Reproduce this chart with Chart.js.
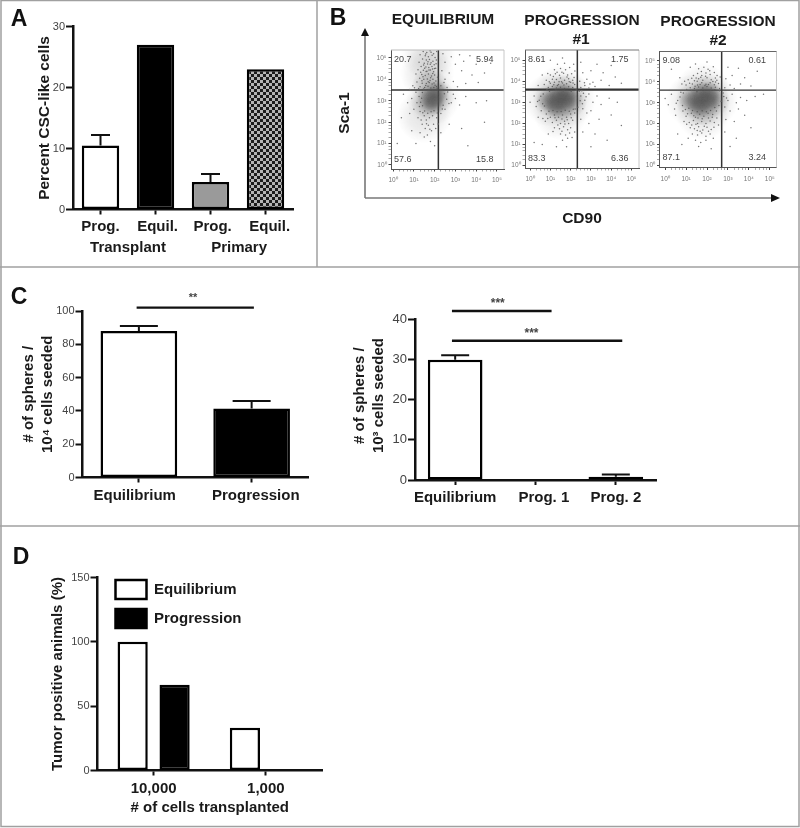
<!DOCTYPE html>
<html>
<head>
<meta charset="utf-8">
<script src="https://cdn.jsdelivr.net/npm/chart.js@4"></script>
<style>
  html, body { margin: 0; background: #fff; }
  #page { position: relative; width: 800px; height: 828px; overflow: hidden; font-family: "Liberation Sans", Arial, sans-serif; filter: blur(0.35px); }
  #page canvas, #page svg { position: absolute; }
  .txt { position: absolute; white-space: nowrap; font-weight: bold; color: #1a1a1a; line-height: 20px; transform: translate(-50%, -50%); }
  .letter { font-size: 23px; color: #111; }
  .head { font-size: 15.5px; }
</style>
</head>
<body>
<div id="page">
  <svg width="800" height="828">
    <g stroke="#a0a0a0" stroke-width="1.5" fill="none">
      <rect x="1" y="0.5" width="798" height="826"/>
      <line x1="317" y1="0" x2="317" y2="267"/>
      <line x1="0" y1="267" x2="800" y2="267"/>
      <line x1="0" y1="526" x2="800" y2="526"/>
    </g>
    <g stroke="#777" stroke-width="1.6">
      <line x1="365" y1="34" x2="365" y2="198"/>
      <line x1="365" y1="198" x2="772" y2="198"/>
    </g>
    <polygon points="365,28 361,36 369,36" fill="#111"/>
    <polygon points="780,198 771,194 771,202" fill="#111"/>
  </svg>

  <div class="txt letter" style="left:19px;top:18px">A</div>
  <div class="txt letter" style="left:338px;top:17px">B</div>
  <div class="txt letter" style="left:19px;top:296px">C</div>
  <div class="txt letter" style="left:21px;top:556px">D</div>
  <div class="txt head" style="left:443px;top:19px">EQUILIBRIUM</div>
  <div class="txt head" style="left:582px;top:20px">PROGRESSION</div>
  <div class="txt head" style="left:581px;top:39px">#1</div>
  <div class="txt head" style="left:718px;top:21px">PROGRESSION</div>
  <div class="txt head" style="left:718px;top:40px">#2</div>
  <div class="txt head" style="left:344px;top:113px;transform:translate(-50%,-50%) rotate(-90deg)">Sca-1</div>
  <div class="txt head" style="left:582px;top:218px">CD90</div>

  <canvas id="chartA"></canvas>
  <canvas id="chartEq"></canvas>
  <canvas id="chartP1"></canvas>
  <canvas id="chartP2"></canvas>
  <canvas id="chartC1"></canvas>
  <canvas id="chartC2"></canvas>
  <canvas id="chartD"></canvas>
</div>

<script>
// panel A
const A_LABELS = ["Prog.", "Equil.", "Prog.", "Equil."];
const A_VALUES = [10.5, 27, 4.5, 23];
const A_ERR_TOP = [12.2, null, 5.8, null];
const A_GROUPS = [["Transplant", 0.5], ["Primary", 2.52]];
const A_TICKS = [0, 10, 20, 30];

// panel C
const C1_LABELS = ["Equilibrium", "Progression"];
const C1_VALUES = [88, 41.5];
const C1_ERR_TOP = [91, 46];
const C1_TICKS = [0, 20, 40, 60, 80, 100];
const C2_LABELS = ["Equilibrium", "Prog. 1", "Prog. 2"];
const C2_VALUES = [30, 0, 0.8];
const C2_ERR_TOP = [31.1, null, 1.4];
const C2_TICKS = [0, 10, 20, 30, 40];
// from, to (category index), height (y value), star position (category index)
const C1_SIG = [[-0.02, 1.02, 102, 0.48, "**"]];
const C2_SIG = [[-0.04, 1.2, 42.1, 0.53, "***"], [-0.04, 2.08, 34.7, 0.95, "***"]];

// panel D
const D_LABELS = ["10,000", "1,000"];
const D_EQUIL = [100, 33.3];
const D_PROG = [66.7, 0];
const D_TICKS = [0, 50, 100, 150];

// panel B, values are log10 of intensity
const DECADES = [0, 1, 2, 3, 4, 5];
const DECADE_LABELS = ["10⁰", "10¹", "10²", "10³", "10⁴", "10⁵"];
const MINOR_TICKS = [0.3, 0.5, 0.7, 0.85, 1.3, 1.5, 1.7, 1.85, 2.3, 2.5, 2.7, 2.85, 3.3, 3.5, 3.7, 3.85, 4.3, 4.5, 4.7, 4.85];
const EQ_QUADS = ["20.7", "5.94", "57.6", "15.8"];
const P1_QUADS = ["8.61", "1.75", "83.3", "6.36"];
const P2_QUADS = ["9.08", "0.61", "87.1", "3.24"];
const EQ_CROSS = [2.18, 3.5];
const P1_CROSS = [2.33, 3.6];
const P2_CROSS = [2.7, 3.6];

// soft density layers: wide cloud, middle, dense centre
const EQ_CLOUD = [[1.92, 3.1], [1.65, 4.3], [1.7, 5.2], [1.5, 2.3]];
const EQ_HALO = [[1.9, 3.1], [2.15, 3.2], [1.65, 2.95], [1.75, 3.8]];
const EQ_CORE = [[1.9, 3.1], [1.72, 3.02], [2.08, 3.2], [1.95, 2.85], [2.15, 3.42]];
const P1_CLOUD = [[1.0, 3.1], [1.9, 3.1], [1.5, 3.5], [1.5, 2.5]];
const P1_HALO = [[1.0, 3.1], [1.5, 3.1], [2.0, 3.1], [1.5, 2.75], [1.6, 3.5]];
const P1_CORE = [[0.85, 3.1], [1.15, 3.05], [1.45, 3.1], [1.75, 3.1], [2.05, 3.15], [1.45, 3.4], [1.8, 3.4], [1.3, 2.8]];
const P2_CLOUD = [[1.3, 3.1], [2.2, 3.1], [1.8, 3.6], [1.8, 2.5]];
const P2_HALO = [[1.3, 3.1], [1.8, 3.1], [2.3, 3.1], [1.8, 2.7], [1.9, 3.5]];
const P2_CORE = [[1.15, 3.15], [1.45, 3.1], [1.75, 3.1], [2.05, 3.15], [2.35, 3.2], [1.75, 3.45], [2.1, 3.5], [1.65, 2.8]];

const EQ_DOTS = [
  [1.45,5.3],[1.62,5.25],[1.78,5.33],[1.95,5.2],[2.1,5.3],[1.3,5.15],[1.55,5.1],[1.7,5.05],[1.88,5.12],[2.02,5.02],
  [1.42,4.95],[1.6,4.9],[1.75,4.93],[1.92,4.85],[2.08,4.9],[1.25,4.8],[1.5,4.75],[1.66,4.72],[1.83,4.78],[1.98,4.68],
  [1.35,4.6],[1.58,4.58],[1.72,4.55],[1.87,4.6],[2.05,4.52],[1.2,4.45],[1.46,4.42],[1.63,4.38],[1.8,4.44],[1.95,4.35],
  [1.1,4.25],[1.38,4.22],[1.55,4.18],[1.7,4.25],[1.85,4.15],[2.0,4.2],[2.14,4.1],[1.28,4.05],[1.48,4.0],[1.65,4.02],
  [1.78,3.95],[1.92,4.0],[2.06,3.92],[1.15,3.88],[1.4,3.82],[1.6,3.8],[1.74,3.85],[1.88,3.78],[2.02,3.72],[0.95,3.7],
  [1.3,3.65],[1.52,3.62],[1.68,3.68],[1.82,3.6],[1.96,3.62],[2.12,3.58],[1.52,4.52],[1.9,4.48],[1.68,4.82],[1.44,4.12],
  [1.33,4.33],[1.47,4.67],[1.59,4.36],[1.73,4.44],[1.79,4.71],[1.91,4.27],[1.99,4.51],[2.07,4.73],[1.57,5.18],[1.83,5.27],
  [1.39,3.93],[1.57,3.71],[1.69,3.89],[1.81,4.07],[1.97,3.83],[2.09,3.67],[1.23,3.57],[1.47,3.55],[1.03,3.61],[0.81,3.53],
  [2.4,5.2],[2.8,5.05],[3.2,5.15],[3.7,5.1],[2.5,4.8],[3.0,4.7],[3.4,4.85],[4.0,4.7],[4.7,4.75],
  [2.35,4.4],[2.7,4.3],[3.3,4.4],[3.8,4.2],[4.4,4.3],[2.5,4.0],[2.9,3.9],[3.5,3.8],[4.1,3.85],[2.3,3.7],[2.6,3.62],[3.1,3.65],[2.45,3.85],
  [0.5,3.3],[0.7,2.9],[0.9,3.1],[1.0,2.6],[1.1,3.4],[1.15,2.9],[1.25,3.2],[1.3,2.5],[0.8,2.4],[1.2,2.2],[1.35,2.1],
  [1.42,2.77],[1.33,2.93],[1.27,2.73],[1.41,3.39],[1.37,3.11],[2.47,3.33],[2.58,3.07],[2.63,3.41],[2.69,2.87],[2.41,2.79],
  [2.37,2.61],[1.52,2.52],[1.67,2.41],[1.83,2.48],[1.97,2.53],[2.13,2.43],[1.43,2.44],[1.61,1.93],[1.77,1.67],[2.17,1.91],
  [1.5,2.3],[1.6,2.1],[1.75,2.2],[1.9,2.3],[2.1,2.2],[2.3,2.4],[2.5,2.6],[2.8,2.9],[3.0,3.1],[3.2,2.8],[2.9,3.3],
  [3.5,3.2],[4.0,2.9],[4.5,3.0],[1.4,1.9],[1.55,1.7],[1.7,1.85],[1.85,1.6],[1.95,1.9],[2.05,1.7],[1.3,1.5],[1.5,1.3],
  [1.65,1.4],[0.9,1.6],[0.4,2.2],[0.2,1.0],[1.8,1.1],[2.3,1.5],[2.7,1.9],[3.3,1.7],[4.4,2.0],[2.0,0.9],[3.6,0.9],[1.1,1.0]
];

const P1_DOTS = [
  [0.9,3.7],[1.1,3.75],[1.3,3.68],[1.5,3.72],[1.7,3.66],[1.9,3.74],[2.1,3.7],[0.7,3.85],[1.0,3.9],[1.2,3.95],[1.4,3.85],
  [1.6,3.92],[1.8,3.88],[2.0,3.95],[2.2,3.85],[0.8,4.05],[1.1,4.1],[1.3,4.08],[1.5,4.15],[1.7,4.05],[1.9,4.12],[2.1,4.05],
  [1.0,4.3],[1.25,4.35],[1.45,4.28],[1.65,4.38],[1.85,4.3],[2.05,4.35],[1.2,4.55],[1.5,4.6],[1.75,4.55],[1.95,4.65],
  [1.35,4.8],[1.7,4.85],[2.15,4.8],[0.6,4.3],[1.0,5.0],[0.4,3.8],[1.6,5.1],[1.55,3.98],[1.82,4.2],[1.15,4.22],[1.35,3.8],[2.12,3.92],
  [0.95,3.98],[1.17,3.83],[1.43,3.97],[1.67,3.82],[1.93,3.97],[2.17,4.18],[1.33,4.43],[1.57,4.43],[2.21,4.48],[0.87,4.37],
  [2.5,3.7],[2.7,3.8],[2.9,3.68],[3.2,3.75],[2.45,4.0],[2.8,4.1],[3.1,3.95],[3.5,4.05],[3.9,3.8],[2.6,4.4],[3.0,4.5],[3.6,4.4],[4.2,4.2],[4.5,3.9],[3.3,4.8],[4.0,4.75],[2.5,4.9],
  [2.68,3.93],[2.95,3.87],[2.55,3.55],
  [0.0,3.0],[0.2,3.3],[0.3,2.8],[0.45,3.1],[0.55,2.6],[0.65,3.4],[0.4,2.3],[0.8,2.45],[1.0,2.3],[1.2,2.4],[1.4,2.3],[1.6,2.4],
  [1.8,2.3],[2.0,2.45],[2.2,2.5],[0.75,2.1],[1.1,2.05],[1.3,2.15],[1.5,2.0],[1.7,2.1],[1.9,2.0],[2.1,2.15],[1.2,1.8],[1.45,1.75],
  [1.65,1.85],[1.85,1.7],[2.0,1.8],[1.5,1.5],[1.75,1.45],[1.95,1.55],[2.2,1.6],[1.6,1.2],[1.85,1.3],[1.8,0.9],[0.9,1.5],[0.2,1.1],[0.6,1.0],[1.3,0.9],
  [0.53,3.29],[0.37,3.04],[0.71,2.83],[0.62,2.93],[0.83,3.58],[0.96,3.52],[1.27,3.57],[1.63,3.55],[2.03,3.53],[2.27,3.58],[2.42,3.52],[2.63,3.43],
  [2.76,3.27],[2.47,3.08],[2.58,2.93],[2.36,2.77],[2.22,2.69],[0.93,2.58],[1.13,2.61],[1.33,2.55],[1.53,2.57],[1.73,2.62],[1.93,2.58],[2.13,2.67],
  [0.63,2.23],[0.87,2.24],[1.23,2.27],[1.57,2.21],[1.83,2.18],[2.03,2.27],[1.37,1.93],[1.57,1.63],[1.13,1.62],[1.72,1.97],[2.07,1.33],
  [2.5,3.3],[2.7,3.1],[2.9,3.4],[3.1,3.0],[3.3,3.3],[2.6,2.7],[2.8,2.5],[3.0,2.6],[3.5,2.9],[3.9,3.2],[4.3,3.0],[2.5,2.2],[2.9,2.0],[3.4,2.2],[4.0,2.4],[2.6,1.6],[3.2,1.5],[4.5,1.9],[3.0,0.9],[3.8,1.2]
];

const P2_DOTS = [
  [1.2,3.72],[1.4,3.68],[1.6,3.75],[1.8,3.7],[2.0,3.78],[2.2,3.7],[2.4,3.74],[2.6,3.68],[1.0,3.85],[1.3,3.9],[1.55,3.85],[1.75,3.95],
  [1.95,3.88],[2.15,3.95],[2.35,3.86],[2.55,3.92],[1.1,4.1],[1.4,4.05],[1.6,4.15],[1.8,4.08],[2.0,4.2],[2.2,4.1],[2.4,4.18],[1.35,4.3],
  [1.55,4.4],[1.75,4.3],[1.95,4.42],[2.15,4.35],[2.35,4.45],[1.6,4.62],[1.85,4.7],[2.05,4.6],[2.3,4.72],[1.45,4.85],[2.0,4.95],[0.7,4.2],[0.8,3.9],[1.2,4.7],[0.3,4.6],
  [1.7,4.22],[1.9,3.82],[2.28,4.02],[1.48,4.18],[2.48,4.3],[1.17,3.93],[1.43,3.79],[1.67,3.87],[2.07,3.87],[2.47,4.07],[1.27,4.17],[1.93,4.27],[2.13,4.53],[1.73,4.49],[2.41,3.99],[1.53,4.03],[0.93,4.03],[2.63,4.23],
  [2.85,3.72],[3.1,3.85],[3.3,3.68],[3.6,3.9],[2.9,4.15],[3.2,4.3],[3.8,4.2],[4.1,3.8],[3.0,4.7],[3.5,4.65],[4.4,4.5],
  [0.0,3.2],[0.15,2.9],[0.3,3.4],[0.45,2.7],[0.6,3.1],[0.75,3.5],[0.5,2.4],[0.85,2.6],[1.0,2.35],[1.25,2.5],[1.45,2.3],[1.65,2.45],
  [1.85,2.35],[2.05,2.5],[2.25,2.3],[2.45,2.6],[0.9,2.1],[1.15,2.05],[1.35,2.15],[1.55,2.0],[1.75,2.1],[1.95,2.0],[2.15,2.12],[2.35,2.05],
  [1.2,1.8],[1.4,1.75],[1.6,1.85],[1.8,1.7],[2.0,1.82],[2.2,1.72],[1.3,1.5],[1.55,1.45],[1.75,1.55],[1.95,1.4],[2.15,1.5],[1.45,1.2],
  [1.7,1.1],[1.95,1.2],[2.3,1.3],[1.1,1.3],[0.6,1.5],[0.8,1.0],[1.6,0.9],[2.2,0.8],
  [1.03,3.63],[1.27,3.58],[1.52,3.53],[1.73,3.61],[2.13,3.58],[2.37,3.62],[2.59,3.57],[0.87,3.47],[0.71,3.27],[0.53,2.97],[0.83,2.87],[0.97,2.67],
  [1.13,2.73],[1.31,2.63],[1.53,2.57],[1.77,2.61],[1.97,2.57],[2.17,2.63],[2.37,2.77],[2.57,2.87],[2.67,3.07],[2.77,3.47],[2.93,3.23],[1.07,2.47],
  [1.37,2.37],[1.57,2.27],[1.77,2.23],[2.07,2.27],[2.27,2.43],[2.47,2.27],[1.03,1.97],[1.27,1.93],[1.47,1.97],[1.67,1.63],[1.87,1.87],[2.07,1.63],[2.33,1.83],[2.55,1.93],[1.53,1.67],
  [2.8,3.3],[3.0,3.1],[3.2,3.4],[3.4,3.0],[3.6,3.25],[2.85,2.8],[3.1,2.6],[3.5,2.7],[3.9,3.1],[4.3,3.3],[4.7,3.4],[2.9,2.2],[3.3,2.1],[3.8,2.4],[2.85,1.6],[3.4,1.3],[4.1,1.8],[3.1,0.9]
];

// checks of the last bar in panel A
function checkerPattern() {
  const c = document.createElement("canvas");
  c.width = 6;
  c.height = 6;
  const g = c.getContext("2d");
  g.fillStyle = "#1c1c1c";
  g.fillRect(0, 0, 6, 6);
  g.fillStyle = "#b4b4b4";
  g.fillRect(0, 0, 3, 3);
  g.fillRect(3, 3, 3, 3);
  return g.createPattern(c, "repeat");
}

// round sprite that fades out, stacked to build the density of the flow plots
function softDot(diameter, peakAlpha) {
  const c = document.createElement("canvas");
  c.width = c.height = diameter;
  const g = c.getContext("2d");
  const r = diameter / 2;
  const grad = g.createRadialGradient(r, r, 0, r, r, r);
  grad.addColorStop(0, `rgba(80,80,80,${peakAlpha})`);
  grad.addColorStop(0.55, `rgba(80,80,80,${peakAlpha * 0.6})`);
  grad.addColorStop(1, "rgba(80,80,80,0)");
  g.fillStyle = grad;
  g.fillRect(0, 0, diameter, diameter);
  return c;
}

// error bars, significance lines and small labels, all placed through the chart's scales
const annotate = {
  id: "annotate",
  afterDatasetsDraw(chart, _args, opts) {
    const { ctx, chartArea: area } = chart;
    const x = chart.scales.x;
    const y = chart.scales.y;
    ctx.save();
    ctx.strokeStyle = "#111";
    ctx.textAlign = "center";
    ctx.textBaseline = "middle";

    if (opts.errors) {
      const bars = chart.getDatasetMeta(0).data;
      ctx.lineWidth = 2;
      opts.errors.forEach((top, i) => {
        if (top === null) return;
        const px = bars[i].x;
        const py = y.getPixelForValue(top);
        ctx.beginPath();
        ctx.moveTo(px, y.getPixelForValue(chart.data.datasets[0].data[i]));
        ctx.lineTo(px, py);
        ctx.moveTo(px - opts.capHalf, py);
        ctx.lineTo(px + opts.capHalf, py);
        ctx.stroke();
      });
    }
    for (const [from, to, val, starAt, stars] of opts.sig || []) {
      const py = y.getPixelForValue(val);
      ctx.lineWidth = 2.4;
      ctx.beginPath();
      ctx.moveTo(x.getPixelForValue(from), py);
      ctx.lineTo(x.getPixelForValue(to), py);
      ctx.stroke();
      ctx.fillStyle = "#444";
      ctx.font = `bold ${opts.starSize}px 'Liberation Sans'`;
      ctx.fillText(stars, x.getPixelForValue(starAt), py - opts.starGap);
    }
    for (const [label, at] of opts.groups || []) {
      ctx.fillStyle = "#1a1a1a";
      ctx.font = "bold 15px 'Liberation Sans'";
      ctx.fillText(label, x.getPixelForValue(at), area.bottom + 38);
    }
    if (opts.quads) {
      ctx.fillStyle = "#444";
      ctx.font = "9px 'Liberation Sans'";
      ctx.textAlign = "left";
      ctx.fillText(opts.quads[0], area.left + 3, area.top + 9.5);
      ctx.fillText(opts.quads[2], area.left + 3, area.bottom - 9.5);
      ctx.textAlign = "right";
      ctx.fillText(opts.quads[1], area.right - 10.5, area.top + 9.5);
      ctx.fillText(opts.quads[3], area.right - 10.5, area.bottom - 9.5);
      ctx.strokeStyle = "#c8c8c8";
      ctx.lineWidth = 1;
      ctx.beginPath();
      ctx.moveTo(area.right, area.bottom);
      ctx.lineTo(area.right, area.top);
      ctx.stroke();
      ctx.strokeStyle = opts.topColor;
      ctx.beginPath();
      ctx.moveTo(area.right, area.top);
      ctx.lineTo(area.left, area.top);
      ctx.stroke();
    }
    ctx.restore();
  },
  afterLayout(chart) {
    // the native legend sits inside the plot, nudged off the y axis
    if (chart.canvas.id === "chartD") {
      chart.legend.left += 8;
      chart.legend.top = chart.chartArea.top - 7.5;
    }
  },
};
Chart.register(annotate);

Chart.defaults.animation = false;
Chart.defaults.responsive = false;
Chart.defaults.font.family = "'Liberation Sans', Arial, sans-serif";

function placeCanvas(id, box) {
  const c = document.getElementById(id);
  c.width = box.right - box.left;
  c.height = box.bottom - box.top;
  c.style.left = box.left + "px";
  c.style.top = box.top + "px";
  return c;
}

// fixes the axis band so the plot area lands on the measured pixels
function pinScale(prop, size, tickValues) {
  return {
    afterBuildTicks(s) {
      s.ticks = tickValues.map((v) => ({ value: v }));
    },
    afterFit(s) {
      s[prop] = size;
      s.paddingLeft = s.paddingRight = s.paddingTop = s.paddingBottom = 0;
    },
  };
}

const TITLE_FONT = { size: 15, weight: "bold", lineHeight: 1.25 };

// positive shift pads a label on the left, negative on the right, to nudge it off its tick
function shiftLabel(text, shift) {
  return shift > 0 ? " ".repeat(shift) + text : text + " ".repeat(-shift);
}

function barChart(id, cfg) {
  const { box, plot } = cfg;
  const canvas = placeCanvas(id, box);
  const categoryIndexes = cfg.labels.map((_, i) => i);
  return new Chart(canvas, {
    type: "bar",
    data: { labels: cfg.labels, datasets: cfg.datasets },
    options: {
      layout: { padding: { top: plot.top - box.top, right: box.right - plot.right, left: 0, bottom: 0 } },
      plugins: {
        legend: cfg.legend || { display: false },
        tooltip: { enabled: false },
        annotate: cfg.annotate || {},
      },
      scales: {
        x: {
          ...pinScale("height", box.bottom - plot.bottom, categoryIndexes),
          grid: { drawOnChartArea: false, offset: false, tickLength: cfg.xTickLen || 5, tickWidth: 2, tickColor: "#111" },
          border: { color: "#111", width: 2.5 },
          ticks: {
            color: "#1a1a1a",
            padding: cfg.xPad || 3,
            font: { size: 15, weight: "bold" },
            maxRotation: 0,
            autoSkip: false,
            callback: (_v, i) => shiftLabel(cfg.labels[i], (cfg.labelShift || [])[i] || 0),
          },
          title: cfg.xTitle
            ? { display: true, text: cfg.xTitle, color: "#1a1a1a", font: TITLE_FONT, padding: { top: 0, bottom: cfg.xTitlePad } }
            : { display: false },
        },
        y: {
          ...pinScale("width", plot.left - box.left, cfg.yTicks),
          min: cfg.yTicks[0],
          max: cfg.yTicks[cfg.yTicks.length - 1],
          grid: { drawOnChartArea: false, tickLength: 7, tickWidth: 2, tickColor: "#111" },
          border: { color: "#111", width: 2.5 },
          ticks: { color: "#444", padding: 1, font: { size: cfg.yFont || 11 } },
          title: { display: true, text: cfg.yTitle, color: "#1a1a1a", font: { ...TITLE_FONT, size: cfg.yTitleSize || 15 }, padding: { top: cfg.yTitlePad, bottom: 0 } },
        },
      },
    },
  });
}

function toPoints(pairs) {
  return pairs.map(([x, y]) => ({ x, y }));
}

const CLOUD_DOT = softDot(54, 0.17);
const HALO_DOT = softDot(34, 0.28);
const CORE_DOT = softDot(22, 0.34);

function flowChart(id, cfg) {
  const { box, plot, xRange, yRange, cross } = cfg;
  const canvas = placeCanvas(id, box);
  const crossLine = (points, width) => ({
    data: toPoints(points),
    showLine: true,
    borderColor: "#333",
    borderWidth: width,
    pointRadius: 0,
  });
  const soft = (pairs, sprite) => ({ data: toPoints(pairs), pointStyle: sprite, pointRadius: 1 });
  const tickColor = (c) => (c.index < DECADES.length ? "#444" : "#aaa");
  return new Chart(canvas, {
    type: "scatter",
    data: {
      datasets: [
        soft(cfg.cloud, CLOUD_DOT),
        soft(cfg.halo, HALO_DOT),
        soft(cfg.core, CORE_DOT),
        { data: toPoints(cfg.dots), backgroundColor: "#777", borderWidth: 0, pointRadius: 0.75 },
        crossLine([[cross[0], yRange[0]], [cross[0], yRange[1]]], 1.5),
        crossLine([[xRange[0], cross[1]], [xRange[1], cross[1]]], cfg.hLine || 1.3),
      ],
    },
    options: {
      layout: { padding: { top: plot.top - box.top, right: box.right - plot.right, left: 0, bottom: 0 } },
      plugins: {
        legend: { display: false },
        tooltip: { enabled: false },
        annotate: { quads: cfg.quads, topColor: cfg.topColor },
      },
      scales: {
        x: {
          ...pinScale("height", box.bottom - plot.bottom, DECADES.concat(MINOR_TICKS)),
          min: xRange[0],
          max: xRange[1],
          grid: { drawOnChartArea: false, tickLength: 2.5, tickWidth: 1, tickColor },
          border: { color: "#555", width: 1 },
          ticks: {
            color: "#777",
            padding: 5,
            font: { size: 6.5 },
            maxRotation: 0,
            autoSkip: false,
            callback: (v, i) => DECADE_LABELS[i] || "",
          },
        },
        y: {
          ...pinScale("width", plot.left - box.left, DECADES.concat(MINOR_TICKS)),
          min: yRange[0],
          max: yRange[1],
          grid: { drawOnChartArea: false, tickLength: 2.5, tickWidth: 1, tickColor },
          border: { color: "#555", width: 1 },
          ticks: {
            color: "#777",
            padding: 2,
            font: { size: 6.5 },
            autoSkip: false,
            callback: (v, i) => DECADE_LABELS[i] || "",
          },
        },
      },
    },
  });
}

const BAR_LINE = { borderColor: "#000", borderWidth: 2.5, borderSkipped: false, barPercentage: 0.68, categoryPercentage: 1 };
const D_BAR_LINE = { borderColor: "#000", borderWidth: 2.5, borderSkipped: false, barPercentage: 0.72, categoryPercentage: 0.747 };

barChart("chartA", {
  box: { left: 2, top: 2, right: 316, bottom: 265 },
  plot: { left: 73, top: 26.5, right: 293, bottom: 209.5 },
  labels: A_LABELS,
  labelShift: [0, 1, 1, 2],
  yTicks: A_TICKS,
  yTitle: "Percent CSC-like cells",
  yTitleSize: 15.5,
  yTitlePad: 33,
  datasets: [{ data: A_VALUES, backgroundColor: ["#fff", "#000", "#9a9a9a", checkerPattern()], ...BAR_LINE }],
  annotate: { errors: A_ERR_TOP, capHalf: 9.5, groups: A_GROUPS },
});

flowChart("chartEq", {
  box: { left: 362, top: 44, right: 510, bottom: 190 },
  plot: { left: 391, top: 50, right: 504, bottom: 169 },
  xRange: [-0.1, 5.34],
  yRange: [-0.19, 5.37],
  cross: EQ_CROSS,
  cloud: EQ_CLOUD,
  halo: EQ_HALO,
  core: EQ_CORE,
  dots: EQ_DOTS,
  quads: EQ_QUADS,
  topColor: "#bbb",
});

flowChart("chartP1", {
  box: { left: 505, top: 44, right: 645, bottom: 190 },
  plot: { left: 525, top: 50, right: 639, bottom: 168 },
  xRange: [-0.25, 5.37],
  yRange: [-0.11, 5.48],
  cross: P1_CROSS,
  cloud: P1_CLOUD,
  halo: P1_HALO,
  core: P1_CORE,
  dots: P1_DOTS,
  quads: P1_QUADS,
  topColor: "#777",
  hLine: 2.2,
});

flowChart("chartP2", {
  box: { left: 640, top: 44, right: 782, bottom: 190 },
  plot: { left: 659.5, top: 51.5, right: 776.5, bottom: 167.5 },
  xRange: [-0.27, 5.32],
  yRange: [-0.1, 5.45],
  cross: P2_CROSS,
  cloud: P2_CLOUD,
  halo: P2_HALO,
  core: P2_CORE,
  dots: P2_DOTS,
  quads: P2_QUADS,
  topColor: "#666",
});

barChart("chartC1", {
  box: { left: 3, top: 285, right: 316, bottom: 522 },
  plot: { left: 82.5, top: 311, right: 308, bottom: 477.5 },
  labels: C1_LABELS,
  labelShift: [-2, 2],
  yTicks: C1_TICKS,
  yTitle: ["# of spheres /", "10⁴ cells seeded"],
  yTitlePad: 16.5,
  datasets: [{ data: C1_VALUES, backgroundColor: ["#fff", "#000"], ...BAR_LINE }],
  annotate: { errors: C1_ERR_TOP, capHalf: 19, sig: C1_SIG, starSize: 11, starGap: 10 },
  xPad: 4,
});

barChart("chartC2", {
  box: { left: 345, top: 285, right: 680, bottom: 522 },
  plot: { left: 415, top: 319.5, right: 656, bottom: 480 },
  labels: C2_LABELS,
  labelShift: [0, 4, 0],
  yTicks: C2_TICKS,
  yFont: 13,
  yTitle: ["  # of spheres /", "  10³ cells seeded"],
  yTitlePad: 5.5,
  datasets: [{ data: C2_VALUES, backgroundColor: "#fff", ...BAR_LINE }],
  annotate: { errors: C2_ERR_TOP, capHalf: 14, sig: C2_SIG, starSize: 12, starGap: 7.5 },
  xPad: 4,
});

barChart("chartD", {
  box: { left: 3, top: 540, right: 330, bottom: 824 },
  plot: { left: 97.5, top: 577.5, right: 322, bottom: 770.5 },
  labels: D_LABELS,
  yTicks: D_TICKS,
  yTitle: "Tumor positive animals (%)",
  yTitlePad: 45.5,
  xTitle: "# of cells transplanted",
  xTitlePad: 7,
  xPad: 4,
  datasets: [
    { label: "Equilibrium", data: D_EQUIL, backgroundColor: "#fff", ...D_BAR_LINE },
    { label: "Progression", data: D_PROG, backgroundColor: "#000", ...D_BAR_LINE },
  ],
  legend: {
    display: true,
    position: "chartArea",
    align: "start",
    labels: { boxWidth: 31, boxHeight: 19, padding: 10, color: "#1a1a1a", font: { size: 15, weight: "bold" } },
  },
});
</script>
</body>
</html>
